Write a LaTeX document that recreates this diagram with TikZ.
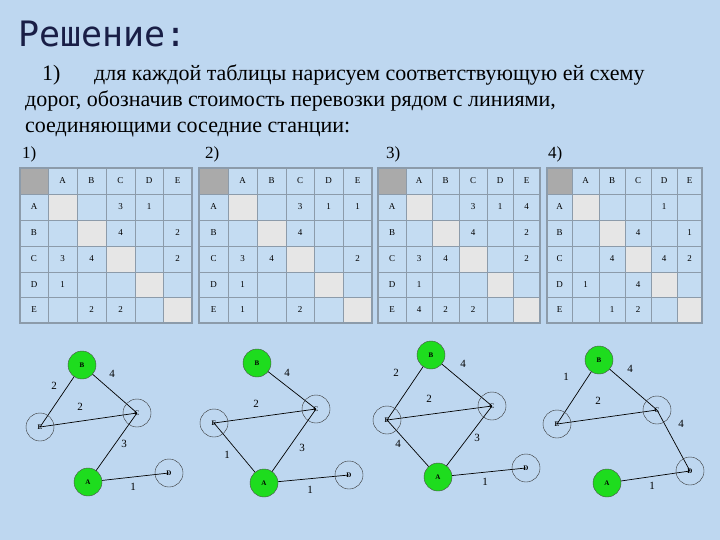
\documentclass[tikz,border=0pt]{standalone}
\usepackage{fontspec}
\setmainfont{Liberation Serif}
\newfontfamily\titlefont{DejaVu Sans Mono}
\usetikzlibrary{backgrounds}
\definecolor{bgc}{RGB}{190,215,240}
\definecolor{cellc}{RGB}{196,220,242}
\definecolor{diagc}{RGB}{230,230,230}
\definecolor{cornc}{RGB}{170,170,170}
\definecolor{gridc}{RGB}{140,155,170}
\definecolor{gfill}{RGB}{30,220,30}
\definecolor{titc}{RGB}{25,30,70}
\def\YS{{168,194,220,246,272,297,323}}
\newcommand\tabgrid[2]{%
 \def\XS{#1}%
 \pgfmathsetmacro\xL{\XS[0]}\pgfmathsetmacro\xR{\XS[6]}%
 \pgfmathsetmacro\xB{\XS[1]}%
 \fill[cellc] (\xL,168) rectangle (\xR,323);
 \fill[cornc] (\xL,168) rectangle (\xB,194);
 \foreach \i/\L in {1/A,2/B,3/C,4/D,5/E}{
  \pgfmathsetmacro\xa{\XS[\i]}\pgfmathsetmacro\xb{\XS[\i+1]}
  \pgfmathsetmacro\ya{\YS[\i]}\pgfmathsetmacro\yb{\YS[\i+1]}
  \fill[diagc] (\xa,\ya) rectangle (\xb,\yb);
  \node[tt] at ({(\xa+\xb)/2},181) {\L};
  \node[tt] at ({(\xL+\xB)/2},{(\ya+\yb)/2}) {\L};
 }
 \foreach \i in {0,...,6}{
  \pgfmathsetmacro\xa{\XS[\i]}\pgfmathsetmacro\ya{\YS[\i]}
  \draw[gridc,line width=0.8pt] (\xa,168) -- (\xa,323);
  \draw[gridc,line width=0.8pt] (\xL,\ya) -- (\xR,\ya);
 }
 \draw[gridc,line width=1.6pt] (\xL,168) rectangle (\xR,323);
 \foreach \r/\c/\v in {#2}{
  \pgfmathsetmacro\xa{\XS[\c]}\pgfmathsetmacro\xb{\XS[\c+1]}
  \pgfmathsetmacro\ya{\YS[\r]}\pgfmathsetmacro\yb{\YS[\r+1]}
  \node[tt] at ({(\xa+\xb)/2},{(\ya+\yb)/2}) {\v};
 }
}
\begin{document}
\begin{tikzpicture}[x=1pt,y=-1pt,
 tt/.style={font=\fontsize{9}{10}\selectfont,inner sep=0pt},
 gnode/.style={circle,draw=black!70,fill=gfill,minimum size=28pt,inner sep=0pt,font=\bfseries\fontsize{7}{8}\selectfont},
 hnode/.style={circle,draw=black!80,minimum size=28pt,inner sep=0pt,font=\bfseries\fontsize{7}{8}\selectfont},
 edge/.style={black,line width=0.7pt},
 el/.style={font=\fontsize{11}{12}\selectfont,inner sep=0pt},
 body/.style={font=\fontsize{22}{24}\selectfont,inner sep=0pt,anchor=base west}]
\begin{pgfonlayer}{background}
\fill[bgc] (0,0) rectangle (720,540);
\end{pgfonlayer}
\useasboundingbox (0,0) rectangle (720,540);
\node[font=\titlefont\fontsize{35}{37}\selectfont,text=titc,anchor=base west,inner sep=0pt] (title) at (18,47) {Решение:};
\node[body] (l1a) at (42,81) {1)};
\node[body] (l1) at (94,81) {для каждой таблицы нарисуем соответствующую ей схему};
\node[body] (l2) at (25,107) {дорог, обозначив стоимость перевозки рядом с линиями,};
\node[body] (l3) at (25,133) {соединяющими соседние станции:};
\node[font=\fontsize{17}{18}\selectfont,anchor=base west,inner sep=0pt] (n1) at (22,159) {1)};
\node[font=\fontsize{17}{18}\selectfont,anchor=base west,inner sep=0pt] (n2) at (205,159) {2)};
\node[font=\fontsize{17}{18}\selectfont,anchor=base west,inner sep=0pt] (n3) at (386,159) {3)};
\node[font=\fontsize{17}{18}\selectfont,anchor=base west,inner sep=0pt] (n4) at (548,159) {4)};
\tabgrid{{20,48,77,106,135,163,192}}{1/3/3,1/4/1,2/3/4,2/5/2,3/1/3,3/2/4,3/5/2,4/1/1,5/2/2,5/3/2}
\tabgrid{{199,228,257,286,314,343,372}}{1/3/3,1/4/1,1/5/1,2/3/4,3/1/3,3/2/4,3/5/2,4/1/1,5/1/1,5/3/2}
\tabgrid{{378,406,432,459,487,513,540}}{1/3/3,1/4/1,1/5/4,2/3/4,2/5/2,3/1/3,3/2/4,3/5/2,4/1/1,5/1/4,5/2/2,5/3/2}
\tabgrid{{547,572,599,625,651,677,702}}{1/4/1,2/3/4,2/5/1,3/2/4,3/4/4,3/5/2,4/1/1,4/3/4,5/2/1,5/3/2}
% graph 1
\node[gnode] (B1) at (82,365) {B};
\node[hnode] (C1) at (137,413) {C};
\node[hnode] (E1) at (40,427) {E};
\node[gnode] (A1) at (88,482) {A};
\node[hnode] (D1) at (169,473) {D};
% graph 2
\node[gnode] (B2) at (257,363) {B};
\node[hnode] (C2) at (316,409) {C};
\node[hnode] (E2) at (214,423) {E};
\node[gnode] (A2) at (264,483) {A};
\node[hnode] (D2) at (349,475) {D};
% graph 3
\node[gnode] (B3) at (431,355) {B};
\node[hnode] (C3) at (492,406) {C};
\node[hnode] (E3) at (387,420) {E};
\node[gnode] (A3) at (438,477) {A};
\node[hnode] (D3) at (526,468) {D};
% graph 4
\node[gnode] (B4) at (599,360) {B};
\node[hnode] (C4) at (657,410) {C};
\node[hnode] (E4) at (557,424) {E};
\node[gnode] (A4) at (607,483) {A};
\node[hnode] (D4) at (690,471) {D};
\begin{pgfonlayer}{background}
\draw[edge] (B1.center)--(E1.center) (B1.center)--(C1.center) (E1.center)--(C1.center) (C1.center)--(A1.center) (A1.center)--(D1.center);
\draw[edge] (B2.center)--(C2.center) (E2.center)--(C2.center) (E2.center)--(A2.center) (C2.center)--(A2.center) (A2.center)--(D2.center);
\draw[edge] (B3.center)--(E3.center) (B3.center)--(C3.center) (E3.center)--(C3.center) (E3.center)--(A3.center) (C3.center)--(A3.center) (A3.center)--(D3.center);
\draw[edge] (B4.center)--(E4.center) (B4.center)--(C4.center) (E4.center)--(C4.center) (C4.center)--(D4.center) (A4.center)--(D4.center);
\end{pgfonlayer}
\node[el] (w1) at (112,374) {4};
\node[el] (w2) at (54,386) {2};
\node[el] (w3) at (80,407) {2};
\node[el] (w4) at (124,444) {3};
\node[el] (w5) at (133,487) {1};
\node[el] (w6) at (287,373) {4};
\node[el] (w7) at (256,404) {2};
\node[el] (w8) at (227,455) {1};
\node[el] (w9) at (302,448) {3};
\node[el] (w10) at (310,490) {1};
\node[el] (w11) at (463,364) {4};
\node[el] (w12) at (396,373) {2};
\node[el] (w13) at (429,399) {2};
\node[el] (w14) at (398,444) {4};
\node[el] (w15) at (477,438) {3};
\node[el] (w16) at (485,482) {1};
\node[el] (w17) at (630,369) {4};
\node[el] (w18) at (566,377) {1};
\node[el] (w19) at (598,401) {2};
\node[el] (w20) at (681,424) {4};
\node[el] (w21) at (652,486) {1};
\end{tikzpicture}
\end{document}
